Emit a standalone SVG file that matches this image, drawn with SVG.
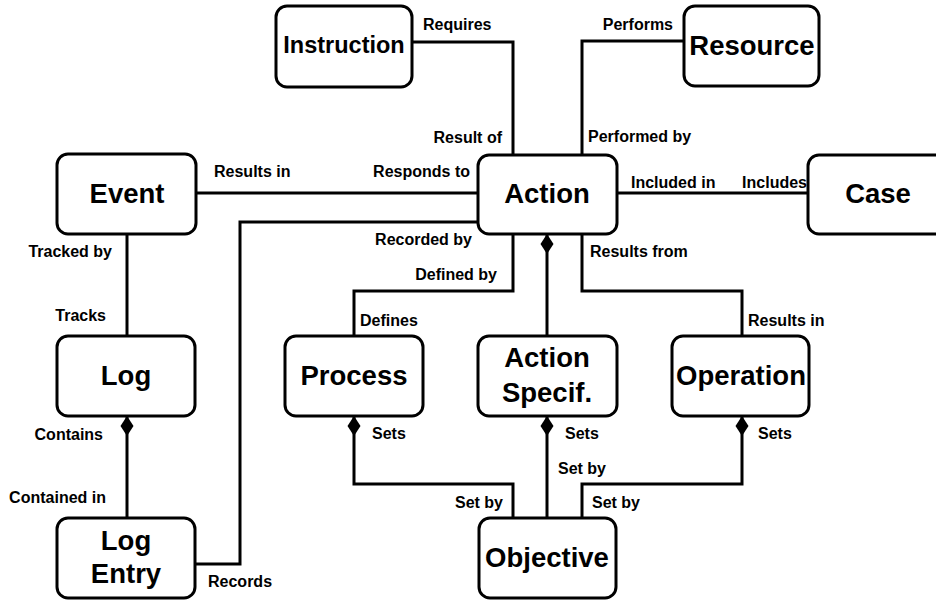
<svg xmlns="http://www.w3.org/2000/svg" width="936" height="600" viewBox="0 0 936 600">
<style>
.box{fill:#fff;stroke:#000;stroke-width:3}
.node{font-family:"Liberation Sans",Arial,Helvetica,sans-serif;font-weight:bold;font-size:27.5px;fill:#000;text-anchor:middle}
.lbl{font-family:"Liberation Sans",Arial,Helvetica,sans-serif;font-weight:bold;font-size:16px;fill:#000}
.e{text-anchor:end}
.c{fill:none;stroke:#000;stroke-width:3}
.d{marker-start:url(#dia)}
</style>
<defs>
<marker id="dia" markerUnits="userSpaceOnUse" markerWidth="22" markerHeight="14" refX="0" refY="7" orient="auto" overflow="visible">
<path d="M0,7 L10,0.5 L20,7 L10,13.5 Z" fill="#000"/>
</marker>
</defs>
<rect width="936" height="600" fill="#fff"/>
<g id="connectors">
<path class="c" d="M412,42 H513 V155"/>
<path class="c" d="M684,41 H582 V155"/>
<path class="c" d="M196,193 H478"/>
<path class="c" d="M617,193 H808"/>
<path class="c" d="M478,222 H240 V564 H195"/>
<path class="c" d="M127,234 V336"/>
<path class="c d" d="M127,416 V518"/>
<path class="c d" d="M547,234 V336"/>
<path class="c" d="M513,234 V291 H354 V336"/>
<path class="c" d="M582,234 V291 H742 V336"/>
<path class="c d" d="M354,416 V484 H513 V518"/>
<path class="c d" d="M547,416 V518"/>
<path class="c d" d="M742,416 V484 H582 V518"/>
</g>
<g id="labels">
<text class="lbl" x="423" y="30">Requires</text>
<text class="lbl e" x="673" y="30">Performs</text>
<text class="lbl e" x="502" y="143">Result of</text>
<text class="lbl" x="588" y="142">Performed by</text>
<text class="lbl" x="214" y="177">Results in</text>
<text class="lbl e" x="470" y="177">Responds to</text>
<text class="lbl" x="631" y="188">Included in</text>
<text class="lbl e" x="807" y="188">Includes</text>
<text class="lbl e" x="472" y="245">Recorded by</text>
<text class="lbl" x="590" y="257">Results from</text>
<text class="lbl e" x="497" y="280">Defined by</text>
<text class="lbl" x="360" y="326">Defines</text>
<text class="lbl" x="748" y="326">Results in</text>
<text class="lbl e" x="112" y="257">Tracked by</text>
<text class="lbl e" x="106" y="321">Tracks</text>
<text class="lbl e" x="103" y="440">Contains</text>
<text class="lbl e" x="106" y="503">Contained in</text>
<text class="lbl" x="208" y="587">Records</text>
<text class="lbl" x="372" y="439">Sets</text>
<text class="lbl" x="565" y="439">Sets</text>
<text class="lbl" x="758" y="439">Sets</text>
<text class="lbl" x="558" y="474">Set by</text>
<text class="lbl e" x="503" y="508">Set by</text>
<text class="lbl" x="592" y="508">Set by</text>
</g>
<g id="instruction"><rect class="box" x="276" y="6" width="136" height="81" rx="11"/><text class="node" x="344" y="53" style="font-size:23.5px">Instruction</text></g>
<g id="resource"><rect class="box" x="684" y="6" width="135" height="80" rx="11"/><text class="node" x="752" y="55">Resource</text></g>
<g id="event"><rect class="box" x="57" y="154" width="139" height="80" rx="11"/><text class="node" x="127" y="203">Event</text></g>
<g id="action"><rect class="box" x="478" y="155" width="139" height="79" rx="11"/><text class="node" x="547" y="203">Action</text></g>
<g id="case"><rect class="box" x="808" y="155" width="140" height="79" rx="11"/><text class="node" x="878" y="203">Case</text></g>
<g id="log"><rect class="box" x="57" y="336" width="138" height="80" rx="11"/><text class="node" x="126" y="385">Log</text></g>
<g id="process"><rect class="box" x="285" y="336" width="138" height="80" rx="11"/><text class="node" x="354" y="385">Process</text></g>
<g id="action-specif"><rect class="box" x="478" y="336" width="139" height="80" rx="11"/><text class="node" x="547" y="367">Action</text><text class="node" x="547" y="402">Specif.</text></g>
<g id="operation"><rect class="box" x="672" y="336" width="137" height="80" rx="11"/><text class="node" x="741" y="385">Operation</text></g>
<g id="log-entry"><rect class="box" x="57" y="518" width="138" height="80" rx="11"/><text class="node" x="126" y="550">Log</text><text class="node" x="126" y="583">Entry</text></g>
<g id="objective"><rect class="box" x="479" y="518" width="137" height="80" rx="11"/><text class="node" x="547" y="567">Objective</text></g>
</svg>
